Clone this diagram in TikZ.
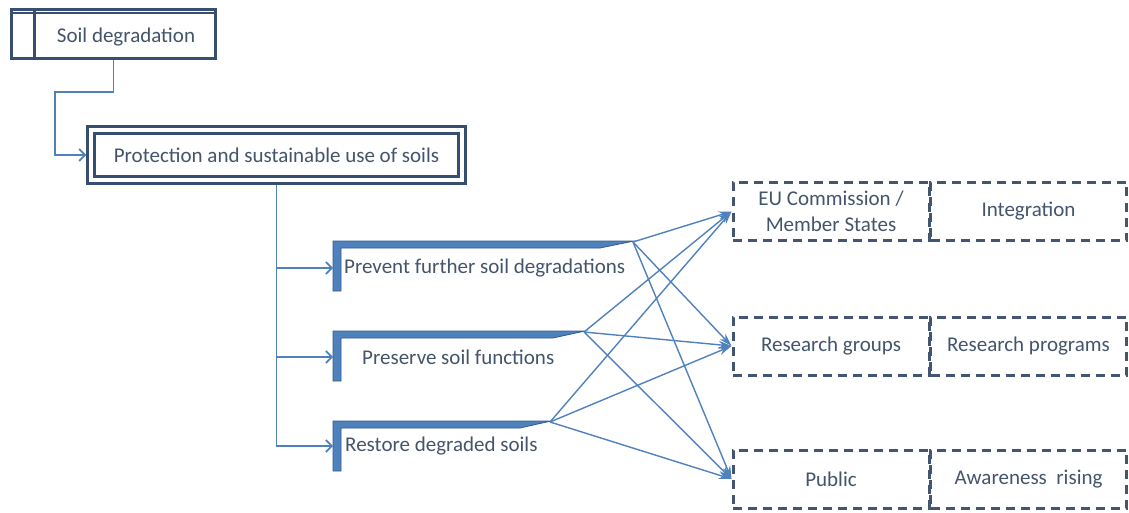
\documentclass[tikz,border=0pt]{standalone}
\usepackage{fontspec}
\setmainfont{Carlito}
\usetikzlibrary{arrows.meta}
\definecolor{textgray}{RGB}{68,84,106}
\definecolor{boxnavy}{RGB}{56,78,112}
\definecolor{dashnavy}{RGB}{66,86,116}
\definecolor{lineblue}{RGB}{79,129,189}
\definecolor{bardark}{RGB}{50,90,145}
\begin{document}
\begin{tikzpicture}[x=1pt,y=-1pt]
		\tikzstyle{Title} = [rectangle, minimum width=204pt, minimum height=49pt, inner sep=0pt, draw=boxnavy, line width=3pt, fill=white]
		\tikzstyle{Goal} = [rectangle, minimum width=371pt, minimum height=50pt, draw=boxnavy, line width=3pt, double=white, double distance=3.5pt, outer sep=4.75pt, fill=white]
		\tikzstyle{Target} = [rectangle, minimum width=196pt, minimum height=58pt, align=center, draw=dashnavy, line width=3pt, dash pattern=on 9pt off 6pt, text=textgray, font=\fontsize{21}{26}\selectfont]
		\tikzstyle{Label} = [text=textgray, font=\fontsize{21}{26}\selectfont, inner sep=1pt]
		\tikzstyle{Bar} = [fill=lineblue, draw=bardark, line width=0.8pt, line join=miter]
		\tikzstyle{Link} = [draw=lineblue, line width=1.6pt]
		\tikzstyle{arrow} = [Link, -{Straight Barb[length=6pt,width=12pt,line width=1.6pt]}]
		\tikzstyle{Fan} = [draw=lineblue, line width=1.4pt, -{Stealth[length=13pt,width=8pt]}]

		\useasboundingbox (0,0) rectangle (1129,513);

		% top boxes
		\node (soilNode) [Title] at (113.5,34) {};
		\draw [boxnavy, line width=1.8pt] ([yshift=-5pt]soilNode.north west) -- ([yshift=-5pt]soilNode.north east);
		\draw [boxnavy, line width=3pt] ([xshift=24pt]soilNode.north west) -- ([xshift=24pt]soilNode.south west);
		\node (soilText) [Label] at (126,37) {Soil degradation};
		\node (protNode) [Goal, Label, inner sep=0pt] at (276.5,155) {Protection and sustainable use of soils};
		\draw [arrow] (soilNode.south) -- ++(0,32) -| ([xshift=-31pt]protNode.west) -- (protNode.west);

		% L shaped bars
		\filldraw [Bar] (333,291) -- (333,241) -- (634,241) -- (600,248) -- (341,248) -- (341,291) -- cycle;
		\filldraw [Bar] (333,381) -- (333,331) -- (585,331) -- (553,338) -- (341,338) -- (341,381) -- cycle;
		\filldraw [Bar] (333,471) -- (333,421) -- (551,421) -- (520,428) -- (341,428) -- (341,471) -- cycle;
		\coordinate (preventBar) at (333,268);
		\coordinate (preserveBar) at (333,357);
		\coordinate (restoreBar) at (333,446);
		\coordinate (preventTip) at (633,242);
		\coordinate (preserveTip) at (584,332);
		\coordinate (restoreTip) at (550,422);
		\node (preventNode) [Label, anchor=west] at (343,268) {Prevent further soil degradations};
		\node (preserveNode) [Label, anchor=west] at (361,357) {Preserve soil functions};
		\node (restoreNode) [Label, anchor=west] at (344,446) {Restore degraded soils};
		\draw [arrow] (protNode.south) |- (preventBar);
		\draw [arrow] (protNode.south) |- (preserveBar);
		\draw [arrow] (protNode.south) |- (restoreBar);

		% actors and actions
		\node (euNode) [Target] at (831,211.5) {EU Commission /\\Member States};
		\node (integNode) [Target] at (1028.5,211.5) {Integration};
		\node (researchNode) [Target] at (831,346) {Research groups};
		\node (progNode) [Target] at (1028.5,346) {Research programs};
		\node (publicNode) [Target] at (831,479) {Public};
		\node (awareNode) [Target] at (1028.5,479) {Awareness~ rising};

		\draw [Fan] (preventTip) -- (euNode.west);
		\draw [Fan] (preventTip) -- (researchNode.west);
		\draw [Fan] (preventTip) -- (publicNode.west);
		\draw [Fan] (preserveTip) -- (euNode.west);
		\draw [Fan] (preserveTip) -- (researchNode.west);
		\draw [Fan] (preserveTip) -- (publicNode.west);
		\draw [Fan] (restoreTip) -- (euNode.west);
		\draw [Fan] (restoreTip) -- (researchNode.west);
		\draw [Fan] (restoreTip) -- (publicNode.west);
\end{tikzpicture}
\end{document}
